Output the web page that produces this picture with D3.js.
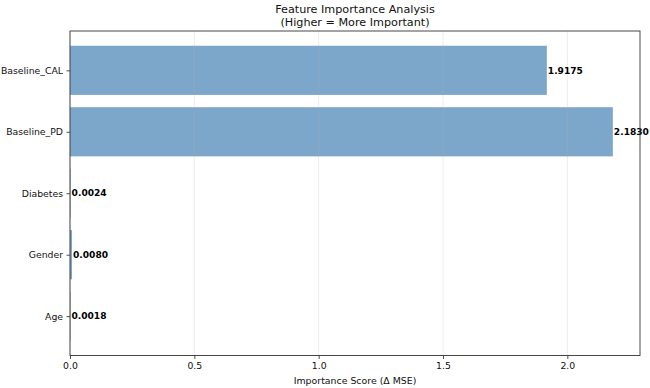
<!DOCTYPE html>
<html><head><meta charset="utf-8">
<script src="https://cdn.jsdelivr.net/npm/d3@7"></script>
<style>body{margin:0;background:#fff}svg{display:block}text{font-family:"DejaVu Sans",sans-serif}</style>
</head><body><svg id="c" width="650" height="388"></svg>
<script>
const features = ["Baseline_CAL","Baseline_PD","Diabetes","Gender","Age"];
const importance = [1.9175, 2.1830, 0.0024, 0.0080, 0.0018];
const xTicks = [0.0, 0.5, 1.0, 1.5, 2.0];
const titleLines = ["Feature Importance Analysis","(Higher = More Important)"];
const xLabel = "Importance Score (Δ MSE)";

const svg = d3.select("#c");
const L=70, R=640, T=31, B=355.5;
const xMax = d3.max(importance)*1.05;
const x = d3.scaleLinear().domain([0, xMax]).range([L, R]);
const n = features.length;
const y = d3.scaleLinear().domain([-0.64, n-1+0.64]).range([B, T]);
const yPos = i => y(n-1-i);
const barH = y(0) - y(0.8);

const g = svg.append("g");
g.selectAll("rect.bar").data(importance).join("rect")
  .attr("x", x(0)).attr("y", (d,i)=>yPos(i)-barH/2)
  .attr("width", d=>x(d)-x(0)).attr("height", barH)
  .attr("fill", "steelblue").attr("fill-opacity", 0.7);
g.selectAll("line.grid").data(xTicks).join("line")
  .attr("x1", d=>x(d)).attr("x2", d=>x(d)).attr("y1", T).attr("y2", B)
  .attr("stroke", "#b0b0b0").attr("stroke-opacity", 0.3).attr("stroke-width", 0.8);
g.selectAll("text.val").data(importance).join("text")
  .attr("x", d=>x(d)+1).attr("y", (d,i)=>yPos(i)).attr("dy","0.35em")
  .attr("font-size", 9.1).attr("font-weight", "bold").attr("fill","#000")
  .text(d=>d.toFixed(4));
const xAxis = d3.axisBottom(x).tickValues(xTicks).tickFormat(d3.format(".1f")).tickSizeOuter(0).tickSize(3.5).tickPadding(3.5);
const gx = svg.append("g").attr("transform",`translate(0,${B})`).call(xAxis);
const yAxis = d3.axisLeft(d3.scalePoint().domain(features).range([yPos(0), yPos(n-1)])).tickSizeOuter(0).tickSize(3.5).tickPadding(3.5);
const gy = svg.append("g").attr("transform",`translate(${L},0)`).call(yAxis);
[gx, gy].forEach(a=>{
  a.select(".domain").remove();
  a.selectAll("text").attr("font-size", 9.3).attr("fill","#111").style("font-family","DejaVu Sans");
  a.selectAll("line").attr("stroke","#222").attr("stroke-width",0.8);
});
svg.append("rect").attr("x",L).attr("y",T).attr("width",R-L).attr("height",B-T)
  .attr("fill","none").attr("stroke","#333").attr("stroke-width",0.9);
svg.append("g").selectAll("text").data(titleLines).join("text")
  .attr("x",(L+R)/2).attr("y",(d,i)=>13+i*12.5).attr("text-anchor","middle")
  .attr("font-size",11.2).attr("fill","#111").text(d=>d);
svg.append("text").attr("x",(L+R)/2).attr("y",384).attr("text-anchor","middle")
  .attr("font-size",9.4).attr("fill","#111").text(xLabel);
</script></body></html>
